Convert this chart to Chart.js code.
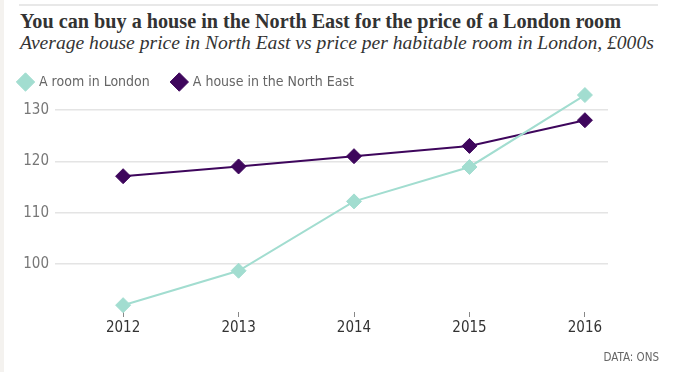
<!DOCTYPE html>
<html>
<head>
<meta charset="utf-8">
<script src="https://cdn.jsdelivr.net/npm/chart.js@4/dist/chart.umd.min.js"></script>
<style>
  html, body { margin: 0; padding: 0; background: #fff; width: 688px; height: 372px; overflow: hidden; position: relative; }
  #strip { position: absolute; left: 0; top: 0; width: 4px; height: 372px; background: #f4f2ef; }
  #rule { position: absolute; left: 19px; top: 4px; width: 639px; height: 2px; background: #e8e8e8; }
  #title { position: absolute; left: 20px; top: 10px; font: bold 20.2px "Liberation Serif", serif; color: #333; white-space: nowrap; line-height: 22px; }
  #subtitle { position: absolute; left: 20px; top: 32px; font: italic 19.6px "Liberation Serif", serif; color: #333; white-space: nowrap; line-height: 22px; }
  #source { position: absolute; right: 29px; top: 350px; font: 11.5px "Liberation Sans Narrow", "DejaVu Sans Condensed", sans-serif; color: #666; }
  #wrap { position: absolute; left: -4px; top: 52px; width: 692px; height: 320px; }
</style>
</head>
<body>
<div id="strip"></div>
<div id="rule"></div>
<div id="title">You can buy a house in the North East for the price of a London room</div>
<div id="subtitle">Average house price in North East vs price per habitable room in London, £000s</div>
<div id="wrap"><canvas id="c"></canvas></div>
<div id="source">DATA: ONS</div>
<script>
const years = ['2012', '2013', '2014', '2015', '2016'];
const londonRoom = [92.0, 98.7, 112.2, 118.9, 132.9];
const northEastHouse = [117.1, 119.0, 121.0, 123.0, 128.0];
const yTicks = [100, 110, 120, 130];
const seriesNames = ['A room in London', 'A house in the North East'];

const tealColor = '#a2ddd0';
const purpleColor = '#3e065c';
const tickFont = { family: '"Liberation Sans Narrow", "DejaVu Sans Condensed", sans-serif', size: 15 };

const toPoints = arr => arr.map((v, i) => ({ x: i, y: v }));

new Chart(document.getElementById('c'), {
  type: 'line',
  data: {
    datasets: [
      {
        label: seriesNames[0],
        data: toPoints(londonRoom),
        borderColor: tealColor,
        backgroundColor: tealColor,
        borderWidth: 2,
        pointStyle: 'rectRot',
        pointRadius: 7.5,
        pointBorderWidth: 1,
        pointHoverRadius: 7.5,
        clip: false
      },
      {
        label: seriesNames[1],
        data: toPoints(northEastHouse),
        borderColor: purpleColor,
        backgroundColor: purpleColor,
        borderWidth: 2,
        pointStyle: 'rectRot',
        pointRadius: 7.5,
        pointBorderWidth: 1,
        pointHoverRadius: 7.5,
        clip: false
      }
    ]
  },
  options: {
    responsive: true,
    maintainAspectRatio: false,
    animation: false,
    layout: { padding: { left: 0, right: 80, top: 0, bottom: 33 } },
    plugins: {
      tooltip: { enabled: false },
      legend: {
        display: true,
        position: 'top',
        align: 'start',
        labels: {
          usePointStyle: true,
          boxWidth: 13,
          boxHeight: 13,
          padding: 23,
          color: '#666',
          font: { family: '"Liberation Sans Narrow", "DejaVu Sans Condensed", sans-serif', size: 14 }
        }
      }
    },
    scales: {
      x: {
        type: 'linear',
        min: -0.59,
        max: 4.2,
        afterBuildTicks: s => { s.ticks = years.map((y, i) => ({ value: i })); },
        ticks: {
          callback: v => years[v],
          color: '#333',
          font: tickFont,
          padding: 2,
          maxRotation: 0
        },
        grid: { drawOnChartArea: false, drawTicks: true, tickLength: 5, tickColor: '#888', tickWidth: 1 },
        border: { display: false }
      },
      y: {
        min: 90.67,
        max: 132.13,
        afterBuildTicks: s => { s.ticks = yTicks.map(v => ({ value: v })); },
        afterFit: s => { s.width = 59; },
        ticks: { color: '#777', font: tickFont, padding: 6 },
        grid: { color: '#e4e4e4', lineWidth: 1.5, drawTicks: false },
        border: { display: false }
      }
    }
  }
});
</script>
</body>
</html>
